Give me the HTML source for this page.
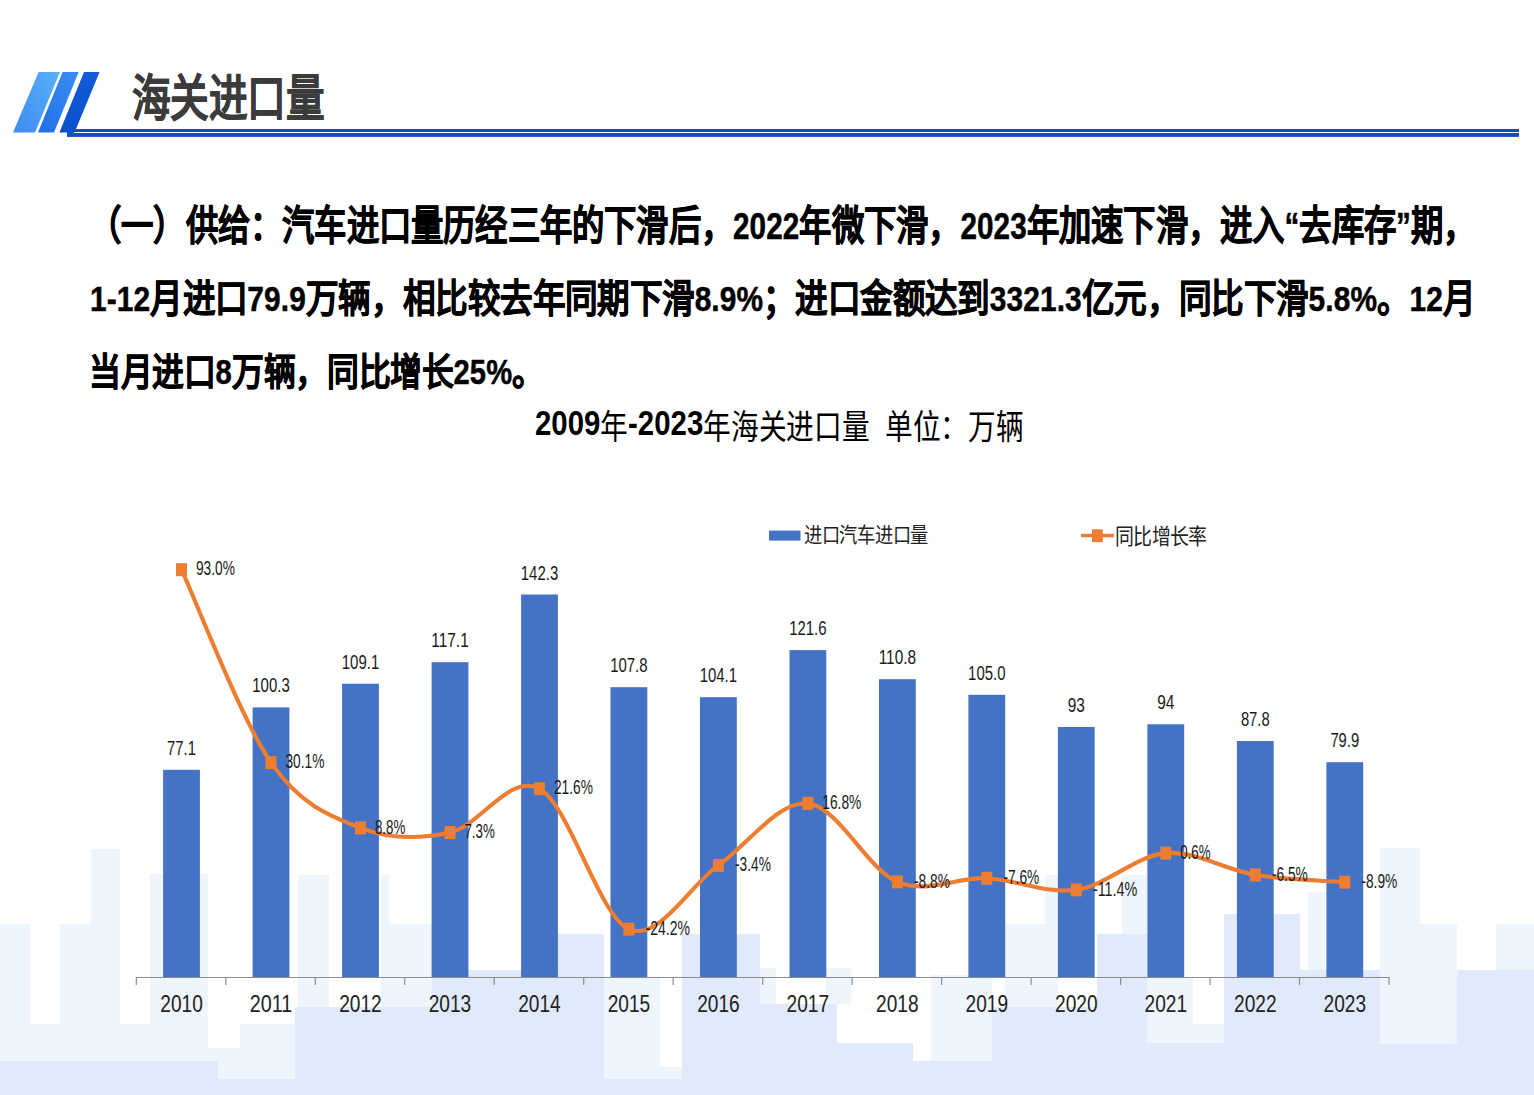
<!DOCTYPE html>
<html lang="zh-CN"><head><meta charset="utf-8">
<style>
html,body{margin:0;padding:0;}
body{width:1534px;height:1095px;overflow:hidden;background:#fff;position:relative;font-family:"Liberation Sans",sans-serif;}
.abs{position:absolute;left:0;top:0;}
svg{position:absolute;left:0;top:0;}
.lab{font-family:"Liberation Sans",sans-serif;font-size:19.5px;fill:#1a1a1a;}
.axl{font-family:"Liberation Sans",sans-serif;font-size:24px;fill:#222;}
.line{position:absolute;white-space:nowrap;transform-origin:0 0;font-weight:bold;-webkit-text-stroke:0.45px #000;color:#000;font-size:32.2px;line-height:40px;}
.line .n{font-size:29.5px;letter-spacing:0.1px;position:relative;top:-1px;font-weight:bold;-webkit-text-stroke:0.4px #000;}
.title{position:absolute;white-space:nowrap;transform-origin:0 0;font-weight:bold;-webkit-text-stroke:0.25px #3b3b3b;color:#3b3b3b;font-size:38.3px;line-height:46px;}
.ctitle{position:absolute;white-space:nowrap;transform-origin:0 0;color:#000;font-size:25px;line-height:32px;}
.ctitle .n{font-weight:bold;font-size:26.5px;position:relative;top:-3px;}
.leg{position:absolute;white-space:nowrap;transform-origin:0 0;color:#222;font-size:17.5px;line-height:22px;}
</style></head><body>
<svg width="1534" height="1095" viewBox="0 0 1534 1095">
<g id="sky"><rect x="0" y="924" width="30" height="137" fill="#eff5fd"/><rect x="60" y="924" width="31" height="137" fill="#eff5fd"/><rect x="91" y="849" width="29" height="212" fill="#eff5fd"/><rect x="150" y="874" width="58" height="187" fill="#eff5fd"/><rect x="120" y="1024" width="30" height="37" fill="#eff5fd"/><rect x="30" y="1024" width="30" height="37" fill="#eff5fd"/><rect x="208" y="1048" width="32" height="31" fill="#eff5fd"/><rect x="240" y="1024" width="55" height="55" fill="#eff5fd"/><rect x="298" y="875" width="31" height="132" fill="#eff5fd"/><rect x="381" y="875" width="8" height="132" fill="#eff5fd"/><rect x="389" y="924" width="43" height="83" fill="#eff5fd"/><rect x="604" y="977" width="56" height="102" fill="#eff5fd"/><rect x="660" y="1067" width="22" height="12" fill="#eff5fd"/><rect x="760" y="968" width="16" height="36" fill="#eff5fd"/><rect x="826" y="968" width="25" height="36" fill="#eff5fd"/><rect x="931" y="975" width="61" height="86" fill="#eff5fd"/><rect x="1005" y="924" width="40" height="83" fill="#eff5fd"/><rect x="1045" y="875" width="13" height="132" fill="#eff5fd"/><rect x="1122" y="875" width="25" height="59" fill="#eff5fd"/><rect x="1147" y="977" width="46" height="66" fill="#eff5fd"/><rect x="1193" y="1024" width="31" height="19" fill="#eff5fd"/><rect x="1308" y="892" width="17" height="78" fill="#eff5fd"/><rect x="1380" y="848" width="40" height="196" fill="#eff5fd"/><rect x="1420" y="924" width="37" height="120" fill="#eff5fd"/><rect x="1496" y="924" width="38" height="46" fill="#eff5fd"/><rect x="295" y="1007" width="137" height="88" fill="#e1eafb"/><rect x="432" y="970" width="126" height="125" fill="#e1eafb"/><rect x="558" y="934" width="46" height="161" fill="#e1eafb"/><rect x="604" y="1079" width="78" height="16" fill="#e1eafb"/><rect x="682" y="934" width="78" height="161" fill="#e1eafb"/><rect x="760" y="1004" width="77" height="91" fill="#e1eafb"/><rect x="837" y="1043" width="76" height="52" fill="#e1eafb"/><rect x="913" y="1061" width="79" height="34" fill="#e1eafb"/><rect x="992" y="1007" width="105" height="88" fill="#e1eafb"/><rect x="1097" y="934" width="50" height="161" fill="#e1eafb"/><rect x="1147" y="1043" width="77" height="52" fill="#e1eafb"/><rect x="1224" y="914" width="76" height="181" fill="#e1eafb"/><rect x="1300" y="970" width="80" height="125" fill="#e1eafb"/><rect x="1380" y="1044" width="77" height="51" fill="#e1eafb"/><rect x="1457" y="970" width="77" height="125" fill="#e1eafb"/><rect x="0" y="1061" width="218" height="34" fill="#e1eafb"/><rect x="218" y="1079" width="77" height="16" fill="#e1eafb"/></g>
</svg>
<svg width="1534" height="1095" viewBox="0 0 1534 1095">
<defs>
<linearGradient id="g1" x1="0" y1="1" x2="1" y2="0"><stop offset="0" stop-color="#3d8af0"/><stop offset="1" stop-color="#5ab0fb"/></linearGradient>
<linearGradient id="g2" x1="0" y1="1" x2="1" y2="0"><stop offset="0" stop-color="#1f6fe6"/><stop offset="1" stop-color="#3b8df5"/></linearGradient>
<linearGradient id="g3" x1="0" y1="1" x2="1" y2="0"><stop offset="0" stop-color="#0a4fcf"/><stop offset="1" stop-color="#1a66e0"/></linearGradient>
</defs>
<polygon points="38.6,72 60,72 35,132.5 13,132.5" fill="url(#g1)"/>
<polygon points="62.6,72 78.7,72 54,132.5 38,132.5" fill="url(#g2)"/>
<polygon points="84,72 99.6,72 76,129 1519,129 1519,132 74.8,132 73.4,133 1519,133 1519,136.6 67,136.6 67,132.5 59.4,132.5" fill="url(#g3)"/>
<rect x="74" y="129" width="1445" height="3" fill="#0b4fc4"/>
<rect x="67" y="133" width="1452" height="3.8" fill="#0b4fc4"/>
<line x1="136.3" y1="977.5" x2="1389.0" y2="977.5" stroke="#8c8c8c" stroke-width="1.2"/>
<line x1="136.3" y1="977.0" x2="136.3" y2="985.0" stroke="#8c8c8c" stroke-width="1.2"/>
<line x1="225.8" y1="977.0" x2="225.8" y2="985.0" stroke="#8c8c8c" stroke-width="1.2"/>
<line x1="315.3" y1="977.0" x2="315.3" y2="985.0" stroke="#8c8c8c" stroke-width="1.2"/>
<line x1="404.7" y1="977.0" x2="404.7" y2="985.0" stroke="#8c8c8c" stroke-width="1.2"/>
<line x1="494.2" y1="977.0" x2="494.2" y2="985.0" stroke="#8c8c8c" stroke-width="1.2"/>
<line x1="583.7" y1="977.0" x2="583.7" y2="985.0" stroke="#8c8c8c" stroke-width="1.2"/>
<line x1="673.2" y1="977.0" x2="673.2" y2="985.0" stroke="#8c8c8c" stroke-width="1.2"/>
<line x1="762.7" y1="977.0" x2="762.7" y2="985.0" stroke="#8c8c8c" stroke-width="1.2"/>
<line x1="852.1" y1="977.0" x2="852.1" y2="985.0" stroke="#8c8c8c" stroke-width="1.2"/>
<line x1="941.6" y1="977.0" x2="941.6" y2="985.0" stroke="#8c8c8c" stroke-width="1.2"/>
<line x1="1031.1" y1="977.0" x2="1031.1" y2="985.0" stroke="#8c8c8c" stroke-width="1.2"/>
<line x1="1120.6" y1="977.0" x2="1120.6" y2="985.0" stroke="#8c8c8c" stroke-width="1.2"/>
<line x1="1210.0" y1="977.0" x2="1210.0" y2="985.0" stroke="#8c8c8c" stroke-width="1.2"/>
<line x1="1299.5" y1="977.0" x2="1299.5" y2="985.0" stroke="#8c8c8c" stroke-width="1.2"/>
<line x1="1389.0" y1="977.0" x2="1389.0" y2="985.0" stroke="#8c8c8c" stroke-width="1.2"/>
<rect x="163.1" y="769.8" width="36.8" height="207.2" fill="#4472c4"/>
<rect x="252.6" y="707.4" width="36.8" height="269.6" fill="#4472c4"/>
<rect x="342.1" y="683.7" width="36.8" height="293.3" fill="#4472c4"/>
<rect x="431.6" y="662.2" width="36.8" height="314.8" fill="#4472c4"/>
<rect x="521.1" y="594.5" width="36.8" height="382.5" fill="#4472c4"/>
<rect x="610.5" y="687.2" width="36.8" height="289.8" fill="#4472c4"/>
<rect x="700.0" y="697.2" width="36.8" height="279.8" fill="#4472c4"/>
<rect x="789.5" y="650.1" width="36.8" height="326.9" fill="#4472c4"/>
<rect x="879.0" y="679.2" width="36.8" height="297.8" fill="#4472c4"/>
<rect x="968.4" y="694.8" width="36.8" height="282.2" fill="#4472c4"/>
<rect x="1057.9" y="727.0" width="36.8" height="250.0" fill="#4472c4"/>
<rect x="1147.4" y="724.3" width="36.8" height="252.7" fill="#4472c4"/>
<rect x="1236.9" y="741.0" width="36.8" height="236.0" fill="#4472c4"/>
<rect x="1326.4" y="762.2" width="36.8" height="214.8" fill="#4472c4"/>
<text x="167.1" y="754.8" textLength="28.8" lengthAdjust="spacingAndGlyphs" class="lab">77.1</text>
<text x="252.3" y="692.4" textLength="37.4" lengthAdjust="spacingAndGlyphs" class="lab">100.3</text>
<text x="341.8" y="668.7" textLength="37.4" lengthAdjust="spacingAndGlyphs" class="lab">109.1</text>
<text x="431.3" y="647.2" textLength="37.4" lengthAdjust="spacingAndGlyphs" class="lab">117.1</text>
<text x="520.8" y="579.5" textLength="37.4" lengthAdjust="spacingAndGlyphs" class="lab">142.3</text>
<text x="610.2" y="672.2" textLength="37.4" lengthAdjust="spacingAndGlyphs" class="lab">107.8</text>
<text x="699.7" y="682.2" textLength="37.4" lengthAdjust="spacingAndGlyphs" class="lab">104.1</text>
<text x="789.2" y="635.1" textLength="37.4" lengthAdjust="spacingAndGlyphs" class="lab">121.6</text>
<text x="878.7" y="664.2" textLength="37.4" lengthAdjust="spacingAndGlyphs" class="lab">110.8</text>
<text x="968.1" y="679.8" textLength="37.4" lengthAdjust="spacingAndGlyphs" class="lab">105.0</text>
<text x="1067.7" y="712.0" textLength="17.2" lengthAdjust="spacingAndGlyphs" class="lab">93</text>
<text x="1157.2" y="709.3" textLength="17.2" lengthAdjust="spacingAndGlyphs" class="lab">94</text>
<text x="1240.9" y="726.0" textLength="28.8" lengthAdjust="spacingAndGlyphs" class="lab">87.8</text>
<text x="1330.4" y="747.2" textLength="28.8" lengthAdjust="spacingAndGlyphs" class="lab">79.9</text>
<text x="160.3" y="1011.8" textLength="42.5" lengthAdjust="spacingAndGlyphs" class="axl">2010</text>
<text x="249.8" y="1011.8" textLength="42.5" lengthAdjust="spacingAndGlyphs" class="axl">2011</text>
<text x="339.2" y="1011.8" textLength="42.5" lengthAdjust="spacingAndGlyphs" class="axl">2012</text>
<text x="428.7" y="1011.8" textLength="42.5" lengthAdjust="spacingAndGlyphs" class="axl">2013</text>
<text x="518.2" y="1011.8" textLength="42.5" lengthAdjust="spacingAndGlyphs" class="axl">2014</text>
<text x="607.7" y="1011.8" textLength="42.5" lengthAdjust="spacingAndGlyphs" class="axl">2015</text>
<text x="697.2" y="1011.8" textLength="42.5" lengthAdjust="spacingAndGlyphs" class="axl">2016</text>
<text x="786.6" y="1011.8" textLength="42.5" lengthAdjust="spacingAndGlyphs" class="axl">2017</text>
<text x="876.1" y="1011.8" textLength="42.5" lengthAdjust="spacingAndGlyphs" class="axl">2018</text>
<text x="965.6" y="1011.8" textLength="42.5" lengthAdjust="spacingAndGlyphs" class="axl">2019</text>
<text x="1055.1" y="1011.8" textLength="42.5" lengthAdjust="spacingAndGlyphs" class="axl">2020</text>
<text x="1144.6" y="1011.8" textLength="42.5" lengthAdjust="spacingAndGlyphs" class="axl">2021</text>
<text x="1234.0" y="1011.8" textLength="42.5" lengthAdjust="spacingAndGlyphs" class="axl">2022</text>
<text x="1323.5" y="1011.8" textLength="42.5" lengthAdjust="spacingAndGlyphs" class="axl">2023</text>
<path d="M181.5,569.7 C196.5,601.9 241.2,719.6 271.0,762.6 C300.8,805.7 330.7,816.3 360.5,827.9 C390.3,839.6 420.1,839.1 450.0,832.5 C479.8,826.0 509.6,772.6 539.5,788.7 C569.3,804.8 599.1,916.4 628.9,929.2 C658.8,941.9 688.6,886.3 718.4,865.4 C748.2,844.4 778.1,800.6 807.9,803.4 C837.7,806.2 867.5,869.4 897.4,881.9 C927.2,894.4 957.0,876.9 986.8,878.2 C1016.7,879.6 1046.5,894.1 1076.3,889.9 C1106.2,885.7 1136.0,855.6 1165.8,853.1 C1195.6,850.6 1225.5,870.0 1255.3,874.9 C1285.1,879.7 1329.8,881.0 1344.8,882.2" fill="none" stroke="#ed7d31" stroke-width="4.1" stroke-linejoin="round" stroke-linecap="round"/>
<rect x="176.0" y="563.2" width="11" height="13" fill="#ed7d31"/>
<rect x="265.5" y="756.1" width="11" height="13" fill="#ed7d31"/>
<rect x="355.0" y="821.4" width="11" height="13" fill="#ed7d31"/>
<rect x="444.5" y="826.0" width="11" height="13" fill="#ed7d31"/>
<rect x="534.0" y="782.2" width="11" height="13" fill="#ed7d31"/>
<rect x="623.4" y="922.7" width="11" height="13" fill="#ed7d31"/>
<rect x="712.9" y="858.9" width="11" height="13" fill="#ed7d31"/>
<rect x="802.4" y="796.9" width="11" height="13" fill="#ed7d31"/>
<rect x="891.9" y="875.4" width="11" height="13" fill="#ed7d31"/>
<rect x="981.3" y="871.7" width="11" height="13" fill="#ed7d31"/>
<rect x="1070.8" y="883.4" width="11" height="13" fill="#ed7d31"/>
<rect x="1160.3" y="846.6" width="11" height="13" fill="#ed7d31"/>
<rect x="1249.8" y="868.4" width="11" height="13" fill="#ed7d31"/>
<rect x="1339.3" y="875.7" width="11" height="13" fill="#ed7d31"/>
<text x="195.9" y="575.3" textLength="39.0" lengthAdjust="spacingAndGlyphs" class="lab">93.0%</text>
<text x="285.4" y="768.2" textLength="39.0" lengthAdjust="spacingAndGlyphs" class="lab">30.1%</text>
<text x="374.9" y="833.5" textLength="30.4" lengthAdjust="spacingAndGlyphs" class="lab">8.8%</text>
<text x="464.4" y="838.1" textLength="30.4" lengthAdjust="spacingAndGlyphs" class="lab">7.3%</text>
<text x="553.9" y="794.3" textLength="39.0" lengthAdjust="spacingAndGlyphs" class="lab">21.6%</text>
<text x="645.5" y="934.8" textLength="44.5" lengthAdjust="spacingAndGlyphs" class="lab">-24.2%</text>
<text x="735.0" y="871.0" textLength="35.9" lengthAdjust="spacingAndGlyphs" class="lab">-3.4%</text>
<text x="822.3" y="809.0" textLength="39.0" lengthAdjust="spacingAndGlyphs" class="lab">16.8%</text>
<text x="914.0" y="887.5" textLength="35.9" lengthAdjust="spacingAndGlyphs" class="lab">-8.8%</text>
<text x="1003.4" y="883.8" textLength="35.9" lengthAdjust="spacingAndGlyphs" class="lab">-7.6%</text>
<text x="1092.9" y="895.5" textLength="44.5" lengthAdjust="spacingAndGlyphs" class="lab">-11.4%</text>
<text x="1180.2" y="858.7" textLength="30.4" lengthAdjust="spacingAndGlyphs" class="lab">0.6%</text>
<text x="1271.9" y="880.5" textLength="35.9" lengthAdjust="spacingAndGlyphs" class="lab">-6.5%</text>
<text x="1361.4" y="887.8" textLength="35.9" lengthAdjust="spacingAndGlyphs" class="lab">-8.9%</text>
<rect x="769" y="530.6" width="31.5" height="10" fill="#4472c4"/>
<line x1="1081" y1="535.5" x2="1114" y2="535.5" stroke="#ed7d31" stroke-width="3.6"/>
<rect x="1092" y="529.3" width="10.8" height="12.8" fill="#ed7d31"/>
</svg>
<div class="title" id="t0" style="left:131.78px;top:69.34px;transform:scale(1.0102,1.2950);">海关进口量</div>
<div class="line" id="l1" style="left:88.56px;top:201.19px;transform:scale(1.0062,1.2591);">（一）供给：汽车进口量历经三年的下滑后，<span class="n">2022</span>年微下滑，<span class="n">2023</span>年加速下滑，进入<span class="n">“</span>去库存<span class="n">”</span>期，</div>
<div class="line" id="l2" style="left:90.27px;top:275.37px;transform:scale(1.0123,1.1900);"><span class="n">1-12</span>月进口<span class="n">79.9</span>万辆，相比较去年同期下滑<span class="n">8.9%</span>；进口金额达到<span class="n">3321.3</span>亿元，同比下滑<span class="n">5.8%</span>。<span class="n">12</span>月</div>
<div class="line" id="l3" style="left:89.34px;top:348.82px;transform:scale(0.9892,1.1726);">当月进口<span class="n">8</span>万辆，同比增长<span class="n">25%</span>。</div>
<div class="ctitle" id="ct" style="left:535.18px;top:405.42px;transform:scale(1.1088,1.3414);"><span class="n">2009</span>年<span class="n">-2023</span>年海关进口量&nbsp;&nbsp;单位：万辆</div>
<div class="leg" id="lg1" style="left:803.56px;top:522.49px;transform:scale(1.0433,1.1957);">进口汽车进口量</div>
<div class="leg" id="lg2" style="left:1115.07px;top:522.26px;transform:scale(1.0797,1.2657);">同比增长率</div>
</body></html>
